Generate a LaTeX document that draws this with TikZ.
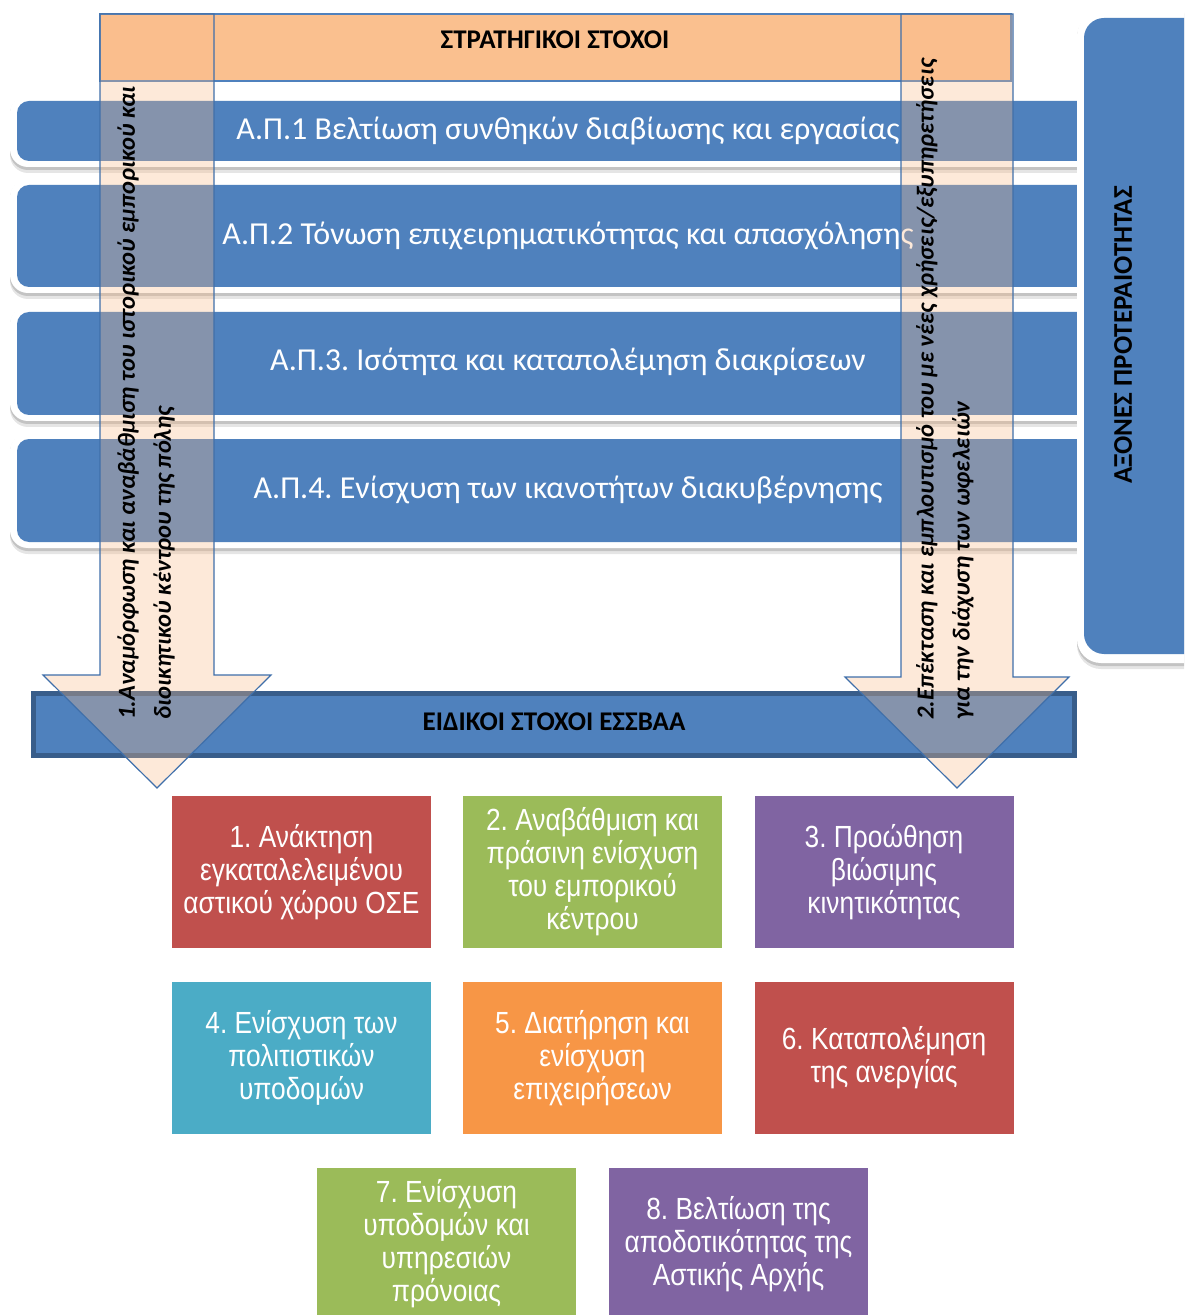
\documentclass[tikz,border=0pt]{standalone}
\usepackage{fontspec}
\setmainfont{Carlito}
\newfontfamily\boxfont[FakeStretch=0.86]{Liberation Sans}
\definecolor{apblue}{HTML}{4F81BD}
\definecolor{darkblue}{HTML}{385D8A}
\definecolor{hdrorange}{HTML}{FAC08F}
\definecolor{arrowfill}{HTML}{FABB89}
\definecolor{arrowline}{HTML}{3F6FAA}
\definecolor{goalred}{HTML}{C0504D}
\definecolor{goalgreen}{HTML}{9BBB59}
\definecolor{goalpurple}{HTML}{8064A2}
\definecolor{goalteal}{HTML}{4BACC6}
\definecolor{goalorange}{HTML}{F79646}
\begin{document}
\frenchspacing
\begin{tikzpicture}[x=0.5pt,y=-0.5pt,
  aptext/.style={text=white,font=\fontsize{16}{19}\selectfont,inner sep=0pt},
  hdrtext/.style={font=\bfseries\fontsize{13.5}{16}\selectfont,inner sep=0pt},
  arrtext/.style={font=\bfseries\itshape\fontsize{12.25}{18}\selectfont,align=left,rotate=90,anchor=west,inner sep=0pt},
  goal/.style={text=white,font=\boxfont\fontsize{15.3}{16.5}\selectfont,align=center,inner sep=0pt,minimum width=129.5pt,minimum height=76pt},
  arrowshape/.style={fill=arrowfill,fill opacity=0.32,draw=arrowline,line width=0.6pt},
]
\useasboundingbox (0,0) rectangle (1184,1315);
\clip (0,0) rectangle (1184,1315);

% priority-axis bars
\begin{scope}
\clip (0,0) rectangle (1077,1315);
\foreach \t/\b in {101/161,185/287,312/415,439/542}{
  \fill[black,opacity=0.10,rounded corners=9pt] (10,\t-6+2) rectangle (1100,\b+6+6);
  \fill[black,opacity=0.15,rounded corners=9pt] (10,\t-6+1) rectangle (1100,\b+6+3);
  \fill[white,rounded corners=9pt] (10,\t-6) rectangle (1100,\b+6);
  \fill[apblue,rounded corners=6pt] (17,\t) rectangle (1100,\b);
}
\end{scope}
\node[aptext] (ap1) at (568,131) {Α.Π.1 Βελτίωση συνθηκών διαβίωσης και εργασίας};
\node[aptext] (ap2) at (568,236) {Α.Π.2 Τόνωση επιχειρηματικότητας και απασχόλησης};
\node[aptext] (ap3) at (568,362) {Α.Π.3. Ισότητα και καταπολέμηση διακρίσεων};
\node[aptext] (ap4) at (568,490) {Α.Π.4. Ενίσχυση των ικανοτήτων διακυβέρνησης};

% header
\filldraw[fill=hdrorange,draw=apblue,line width=0.6pt] (100,14) rectangle (1011,81);
\node[hdrtext] (hdr) at (555,40) {ΣΤΡΑΤΗΓΙΚΟΙ ΣΤΟΧΟΙ};

% specific objectives bar
\filldraw[fill=apblue,draw=darkblue,line width=2.5pt] (33.5,693.5) rectangle (1074.5,755.5);
\node[hdrtext] (eid) at (554,722) {ΕΙΔΙΚΟΙ ΣΤΟΧΟΙ ΕΣΣΒΑΑ};

% axes box
\fill[black,opacity=0.10,rounded corners=12pt] (1077,14) rectangle (1220,669);
\fill[black,opacity=0.15,rounded corners=12pt] (1077,13) rectangle (1220,666);
\fill[white,rounded corners=12pt] (1077,12) rectangle (1220,663);
\fill[apblue,rounded corners=10pt] (1084,18) rectangle (1220,654);
\node[hdrtext,rotate=90] (axes) at (1123,335) {ΑΞΟΝΕΣ ΠΡΟΤΕΡΑΙΟΤΗΤΑΣ};

% arrows
\path[arrowshape] (100,14) -- (214,14) -- (214,675) -- (271,675) -- (157,788) -- (43,675) -- (100,675) -- cycle;
\path[arrowshape] (901,14) -- (1013,14) -- (1013,677) -- (1069,677) -- (957,788) -- (845,677) -- (901,677) -- cycle;
\node[arrtext] (a1) at (146,720) {1.Αναμόρφωση και αναβάθμιση του ιστορικού εμπορικού και\\διοικητικού κέντρου της πόλης};
\node[arrtext] (a2) at (945,720) {2.Επέκταση και εμπλουτισμό του με νέες χρήσεις/εξυπηρετήσεις\\για την διάχυση των ωφελειών};

% specific objectives
\node[goal,fill=goalred] (g1) at (301.5,872) {1. Ανάκτηση\\εγκαταλελειμένου\\αστικού χώρου ΟΣΕ};
\node[goal,fill=goalgreen] (g2) at (592.5,872) {2. Αναβάθμιση και\\πράσινη ενίσχυση\\του εμπορικού\\κέντρου};
\node[goal,fill=goalpurple] (g3) at (884,872) {3. Προώθηση\\βιώσιμης\\κινητικότητας};
\node[goal,fill=goalteal] (g4) at (301.5,1058) {4. Ενίσχυση των\\πολιτιστικών\\υποδομών};
\node[goal,fill=goalorange] (g5) at (592.5,1058) {5. Διατήρηση και\\ενίσχυση\\επιχειρήσεων};
\node[goal,fill=goalred] (g6) at (884,1058) {6. Καταπολέμηση\\της ανεργίας};
\node[goal,fill=goalgreen] (g7) at (446.5,1244) {7. Ενίσχυση\\υποδομών και\\υπηρεσιών\\πρόνοιας};
\node[goal,fill=goalpurple] (g8) at (738.5,1244) {8. Βελτίωση της\\αποδοτικότητας της\\Αστικής Αρχής};
\end{tikzpicture}
\end{document}
